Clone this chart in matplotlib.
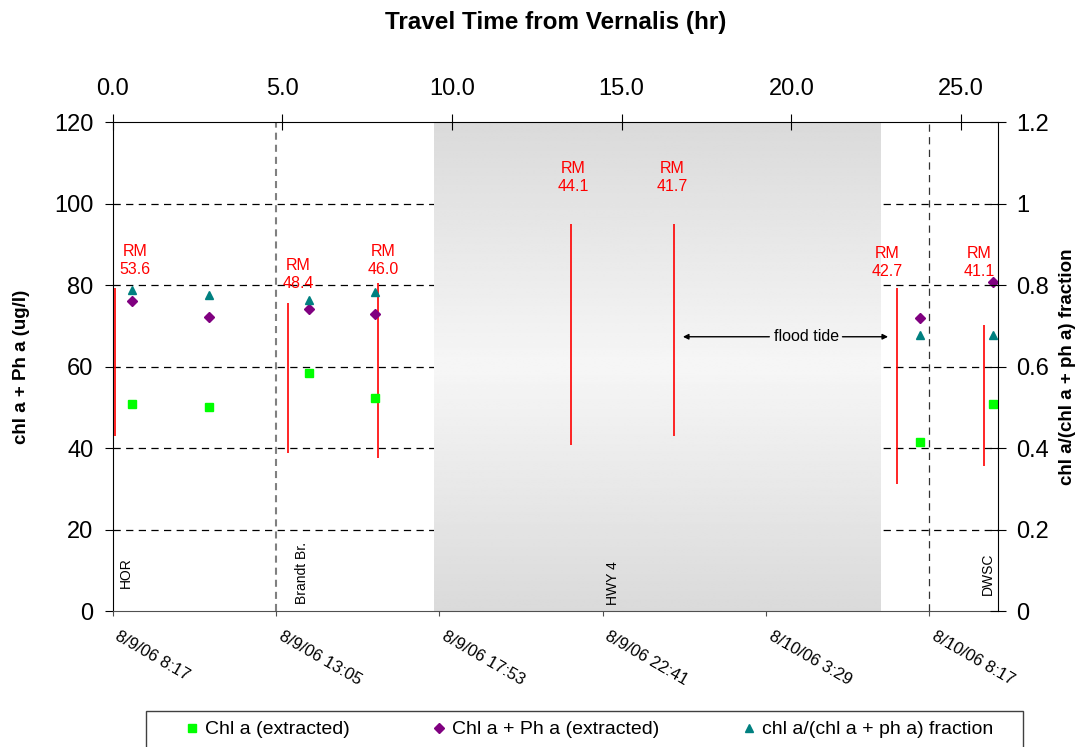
import numpy as np
import matplotlib
matplotlib.use("Agg")
import matplotlib.pyplot as plt
from matplotlib.patches import Rectangle

plt.rcParams['font.family'] = ['Liberation Sans', 'DejaVu Sans']

# %% data -- x in hours after 8/9/06 8:17
sample_hr = [0.58, 2.82, 5.78, 7.70, 23.72, 25.86]
chl_a = [50.7, 50.1, 58.5, 52.3, 41.5, 50.7]
chl_pha = [76.0, 72.2, 74.1, 72.9, 71.9, 80.7]
fraction = [0.787, 0.775, 0.762, 0.784, 0.678, 0.678]

# river mile bars
rm_hr = [0.07, 5.16, 7.80, 13.47, 16.49, 23.05, 25.61]
rm_lo = [43.0, 38.8, 37.6, 40.7, 43.0, 31.1, 35.7]
rm_hi = [79.2, 75.5, 80.6, 95.0, 95.0, 79.2, 70.2]
rm_names = ['53.6', '48.4', '46.0', '44.1', '41.7', '42.7', '41.1']
rm_label_x = [0.66, 5.45, 7.94, 13.53, 16.44, 22.77, 25.46]
rm_label_y = [86.1, 82.5, 86.1, 106.3, 106.3, 85.6, 85.6]

stations = ['HOR', 'Brandt Br.', 'HWY 4', 'DWSC']
station_x = [0.39, 5.56, 14.7, 25.73]
station_y = [5.6, 1.7, 1.5, 3.9]

flood = (9.45, 22.58)
date_ticks = [0, 4.8, 9.6, 14.4, 19.2, 24.0]
date_labels = ['8/9/06 8:17', '8/9/06 13:05', '8/9/06 17:53',
               '8/9/06 22:41', '8/10/06 3:29', '8/10/06 8:17']
travel_ticks = [0, 5, 10, 15, 20, 25]
left_ticks = [0, 20, 40, 60, 80, 100, 120]
right_ticks = [0, 0.2, 0.4, 0.6, 0.8, 1.0, 1.2]

# %% figure
fig = plt.figure(figsize=(10.81, 7.47), dpi=100)
ax = fig.add_axes([0.10426, 0.18206, 0.81924, 0.65462])
ax.set_axisbelow(True)

for v in left_ticks[1:-1]:
    ax.axhline(v, color='black', lw=0.9, linestyle=(0, (5.8, 4.3)), zorder=0.5)

t = np.linspace(0, 1, 256)
shade = 0.855 + 0.11 * (1 - np.abs(2 * t - 1))
ax.imshow(shade[:, None], extent=[flood[0], flood[1], 0, 120], aspect='auto',
          cmap='gray', vmin=0, vmax=1, zorder=1, interpolation='bilinear')

ax.axvline(date_ticks[1], color='#808080', lw=1.5, linestyle=(0, (3.4, 2.4)), zorder=1.5)
ax.axvline(date_ticks[-1], color='#333333', lw=0.9, linestyle=(0, (5.8, 4.3)), zorder=1.5)

ax.vlines(rm_hr, rm_lo, rm_hi, color='red', lw=1.2, zorder=3)
for x, y, n in zip(rm_label_x, rm_label_y, rm_names):
    ax.text(x, y, 'RM\n' + n, color='red', ha='center', va='center',
            fontsize=11.5, linespacing=1.25, zorder=5)

for x, y, s in zip(station_x, station_y, stations):
    ax.text(x, y, s, rotation=90, ha='center', va='bottom', fontsize=10, zorder=5)

# flood tide arrows
arr = dict(arrowstyle='-|>', color='black', lw=1, mutation_scale=8, shrinkA=0, shrinkB=0)
ax.annotate('', xy=(16.76, 67.3), xytext=(19.3, 67.3), arrowprops=arr, zorder=5)
ax.annotate('', xy=(22.79, 67.3), xytext=(21.45, 67.3), arrowprops=arr, zorder=5)
ax.text(20.38, 67.3, 'flood tide', ha='center', va='center', fontsize=11.5, zorder=5)

h1, = ax.plot(sample_hr, chl_a, 's', color='#00ff00', ms=5.2, ls='none', zorder=4)
h2, = ax.plot(sample_hr, chl_pha, 'D', color='#800080', ms=4.6, ls='none', zorder=4)

ax.set_xlim(0, 26.03)
ax.set_ylim(0, 120)
ax.set_yticks(left_ticks)
ax.set_xticks(date_ticks)
ax.set_xticklabels([])
for xt, lab in zip(date_ticks, date_labels):
    ax.annotate(lab, xy=(xt, 0), xycoords=('data', 'axes fraction'),
                xytext=(5.5, -13), textcoords='offset points', rotation=-30,
                ha='left', va='top', rotation_mode='anchor', fontsize=12,
                annotation_clip=False)
ax.tick_params(axis='y', direction='out', length=5.8, width=0.8, labelsize=17, pad=8)
ax.tick_params(axis='x', direction='out', length=3.5, width=0.8, color='#505050')
ax.spines['bottom'].set_color('#505050')
ax.spines['top'].set_visible(False)
ax.spines['right'].set_visible(False)

# right axis
ax2 = ax.twinx()
h3, = ax2.plot(sample_hr, fraction, '^', color='#008080', ms=6.2, ls='none', zorder=4)
ax2.set_ylim(0, 1.2)
ax2.set_yticks(right_ticks)
ax2.set_yticklabels(['%g' % v for v in right_ticks])
ax2.tick_params(axis='y', direction='inout', length=12, width=0.8, labelsize=17, pad=7)
for s in ['left', 'top', 'bottom']:
    ax2.spines[s].set_visible(False)

# top axis
ax3 = ax.twiny()
ax3.set_xlim(0, 26.1)
ax3.set_xticks(travel_ticks)
ax3.set_xticklabels(['%.1f' % v for v in travel_ticks])
ax3.tick_params(axis='x', direction='inout', length=11, width=0.8, labelsize=17, pad=10)
for s in ['left', 'right', 'bottom']:
    ax3.spines[s].set_visible(False)

fig.text(555.5 / 1081, 1 - 29 / 747, 'Travel Time from Vernalis (hr)', ha='center',
         va='baseline', fontsize=17.5, fontweight='bold')
fig.text(22 / 1081, 1 - 366.5 / 747, 'chl a + Ph a (ug/l)', rotation=90, ha='center',
         va='center', fontsize=13.5, fontweight='bold')
fig.text(1068 / 1081, 1 - 366.5 / 747, 'chl a/(chl a + ph a) fraction', rotation=90,
         ha='center', va='center', fontsize=13.5, fontweight='bold')

fig.legend([h1, h2, h3],
           ['Chl a (extracted)', 'Chl a + Ph a (extracted)', 'chl a/(chl a + ph a) fraction'],
           loc='center left', bbox_to_anchor=(183.9 / 1081, 1 - 729.5 / 747), ncol=3,
           frameon=False, fontsize=14, handlelength=0.8, handletextpad=0.28,
           columnspacing=4.2, borderpad=0, borderaxespad=0)
fig.add_artist(Rectangle((145.7 / 1081, -0.05), 877.3 / 1081, 0.05 + 36.3 / 747,
                         transform=fig.transFigure, fill=False, edgecolor='#404040', lw=1))

fig.savefig('out.png', dpi=100)
